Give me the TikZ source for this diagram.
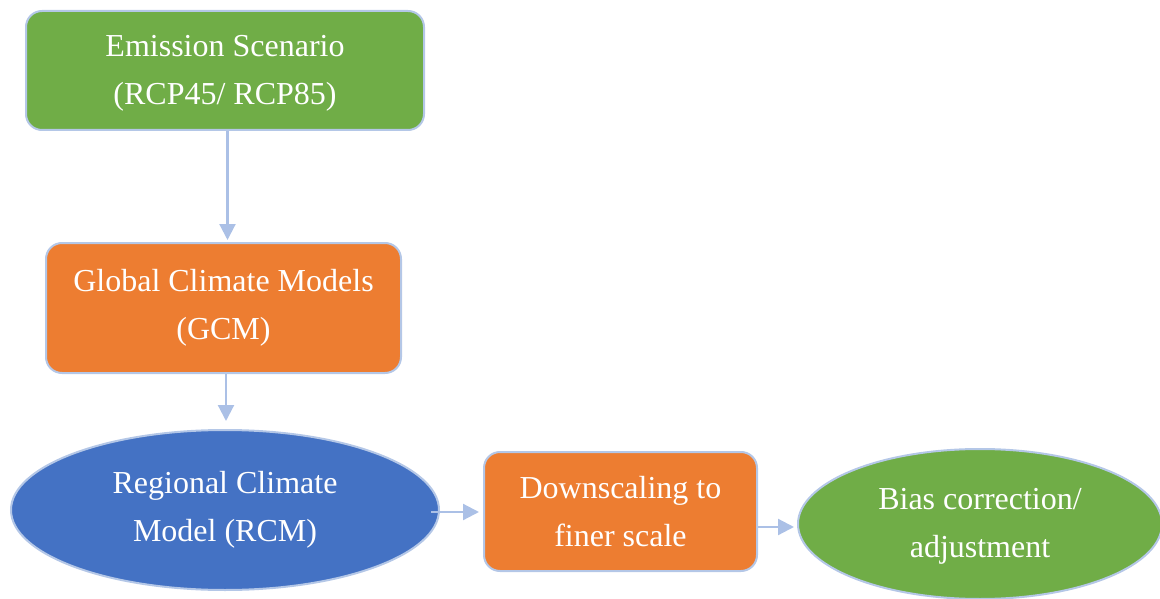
\documentclass[tikz,border=0pt]{standalone}
\usepackage{fontspec}
\setmainfont{Liberation Serif}
\usetikzlibrary{shapes.geometric,arrows.meta}
\definecolor{cgreen}{HTML}{70AD47}
\definecolor{corange}{HTML}{ED7D31}
\definecolor{cblue}{HTML}{4472C4}
\definecolor{cedge}{HTML}{B4C7E7}
\definecolor{carrow}{HTML}{ABC0E6}
\tikzset{
  boxstyle/.style={draw=cedge, line width=2pt, rounded corners=16pt, inner sep=0pt,
    text=white, align=center, font=\fontsize{32}{48}\selectfont},
  ovalstyle/.style={ellipse, draw=cedge, line width=2pt, inner sep=0pt,
    text=white, align=center, font=\fontsize{32}{48}\selectfont},
  arr/.style={draw=carrow, line width=2.2pt, -{Triangle[length=16pt,width=16pt]}}
}
\begin{document}
\begin{tikzpicture}[x=1pt,y=-1pt]
\useasboundingbox (0,0) rectangle (1160,599);
\node[boxstyle, fill=cgreen, minimum width=398, minimum height=119] (emis) at (225,70.5)
  {\raisebox{-6pt}{\begin{tabular}{@{}c@{}}Emission Scenario\\(RCP45/ RCP85)\end{tabular}}};
\node[boxstyle, fill=corange, minimum width=355, minimum height=130] (gcm) at (223.5,308)
  {Global Climate Models\\(GCM)};
\node[ovalstyle, fill=cblue, minimum width=428, minimum height=160] (rcm) at (225,510)
  {Regional Climate\\Model (RCM)};
\node[boxstyle, fill=corange, minimum width=273, minimum height=119] (down) at (620.5,511.5)
  {Downscaling to\\finer scale};
\node[ovalstyle, fill=cgreen, minimum width=364, minimum height=150] (bias) at (980,524)
  {\raisebox{-3pt}{\begin{tabular}{@{}c@{}}Bias correction/\\adjustment\end{tabular}}};
\draw[arr] ([xshift=2.5]emis.south) -- ([xshift=2.5,yshift=2]emis.south |- gcm.north);
\draw[arr] ([xshift=2.5]gcm.south) -- ([xshift=2.5,yshift=8]gcm.south |- rcm.north);
\draw[arr] ([xshift=-9,yshift=-2]rcm.east) -- ([xshift=-4,yshift=-2]rcm.east -| down.west);
\draw[arr] (down.east |- 0,527) -- ([xshift=-3]bias.west |- 0,527);
\end{tikzpicture}
\end{document}
